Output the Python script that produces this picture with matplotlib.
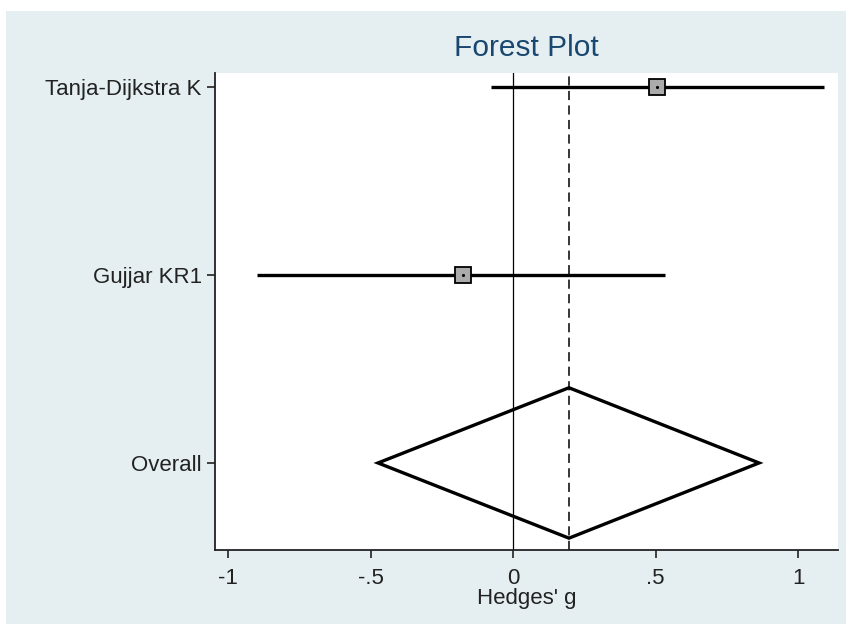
import matplotlib.pyplot as plt
import matplotlib.patches as mpatches
from matplotlib.ticker import FixedLocator, FixedFormatter

plt.rcParams['font.family'] = ['Liberation Sans', 'DejaVu Sans']

# Datos del forest plot
estudios = ['Tanja-Dijkstra K', 'Gujjar KR1', 'Overall']
efectos = [0.505, -0.175]
ic_inf = [-0.077, -0.898]
ic_sup = [1.091, 0.533]
global_efecto = 0.196
global_inf = -0.474
global_sup = 0.863
xticks = [-1, -0.5, 0, 0.5, 1]
xtick_labels = ['-1', '-.5', '0', '.5', '1']

posiciones = [3, 2, 1]

fig = plt.figure(figsize=(8.46, 6.24), dpi=100)
fig.patch.set_facecolor('white')
# region del grafico (azul claro estilo Stata)
fondo = mpatches.Rectangle((6 / 846, 0), 1, (624 - 11) / 624,
                           transform=fig.transFigure, facecolor='#E5EFF2',
                           edgecolor='none', zorder=-10)
fig.patches.append(fondo)

ax = fig.add_axes([215 / 846, 74 / 624, 623 / 846, 477 / 624])
ax.set_zorder(1)
ax.set_facecolor('white')

# lineas de referencia
ax.axvline(0, color='black', lw=0.9, zorder=1)
ax.axvline(global_efecto, color='black', lw=1.1, ls=(0, (6, 3.5)), zorder=1)

# estudios individuales
for y, e, lo, hi in zip(posiciones[:2], efectos, ic_inf, ic_sup):
    ax.plot([lo, hi], [y, y], color='black', lw=2.4, solid_capstyle='butt', zorder=2)
    ax.plot(e, y, marker='s', ms=11.5, mfc='#ABABAB', mec='black', mew=1.3, zorder=3)
    ax.plot(e, y, marker='.', ms=2.5, color='black', zorder=4)

# diamante global
yd = posiciones[2]
h = 0.4
diamante = mpatches.Polygon([[global_inf, yd], [global_efecto, yd + h],
                             [global_sup, yd], [global_efecto, yd - h]],
                            closed=True, facecolor='none', edgecolor='black',
                            lw=2.4, joinstyle='miter', zorder=2)
ax.add_patch(diamante)

ax.set_xlim(-1.046, 1.14)
ax.set_ylim(0.537, 3.074)

ax.yaxis.set_major_locator(FixedLocator(posiciones))
ax.yaxis.set_major_formatter(FixedFormatter(estudios))
ax.xaxis.set_major_locator(FixedLocator(xticks))
ax.xaxis.set_major_formatter(FixedFormatter(xtick_labels))

for s in ['top', 'right']:
    ax.spines[s].set_visible(False)
for s in ['left', 'bottom']:
    ax.spines[s].set_linewidth(1.3)
    ax.spines[s].set_color('#222222')

ax.tick_params(axis='both', length=6, width=1.2, labelsize=16, colors='#222222')
ax.tick_params(axis='y', pad=3.5)
ax.tick_params(axis='x', pad=7)

ax.set_xlabel("Hedges' g", fontsize=16, color='#222222', labelpad=-1)
ax.set_title('Forest Plot', fontsize=21.5, color='#1A476F', pad=12)

fig.savefig('out.png', dpi=100, facecolor=fig.get_facecolor())
